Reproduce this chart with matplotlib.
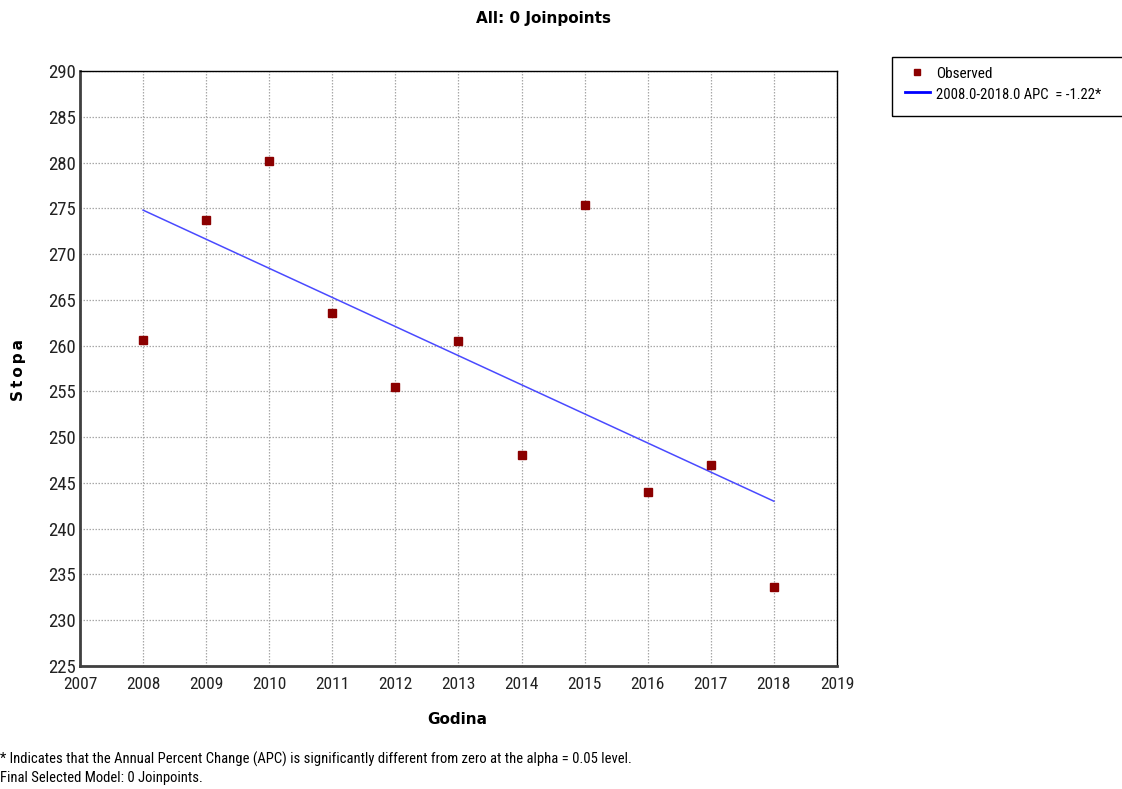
import matplotlib
matplotlib.use("Agg")
import matplotlib.pyplot as plt
from matplotlib.lines import Line2D
from matplotlib.patches import Rectangle

years = [2008, 2009, 2010, 2011, 2012, 2013, 2014, 2015, 2016, 2017, 2018]
observed = [260.6, 273.7, 280.2, 263.6, 255.5, 260.5, 248.0, 275.4, 244.0, 247.0, 233.6]
fit_years = [2008, 2018]
fit_values = [274.8, 243.0]
apc_label = "2008.0-2018.0 APC  = -1.22*"

NARROW = ["Liberation Sans Narrow", "Roboto Condensed", "Liberation Sans", "DejaVu Sans"]
BOLD = ["DejaVu Sans"]

W, H = 1122, 789
fig = plt.figure(figsize=(W / 100, H / 100), dpi=100)
ax = fig.add_axes([80 / W, 1 - 666 / H, (837 - 80) / W, (666 - 71) / H])

ax.plot(fit_years, fit_values, color="#4a4aff", lw=1.1, zorder=2)
ax.plot(years, observed, ls="none", marker="s", ms=6, color="#8b0000",
        mec="#8b0000", zorder=3)

ax.set_xlim(2007, 2019)
ax.set_ylim(225, 290)
ax.set_xticks(range(2007, 2020))
ax.set_yticks(range(225, 291, 5))
ax.grid(True, color="#a8a8a8", ls=(0, (1.2, 1.2)), lw=0.9)
ax.tick_params(axis="x", length=0, pad=8, labelsize=12.5)
ax.tick_params(axis="y", length=0, pad=3, labelsize=13.5)
for lab in ax.get_xticklabels() + ax.get_yticklabels():
    lab.set_family(NARROW)
    lab.set_color("#222222")
for side in ["left", "bottom"]:
    ax.spines[side].set_linewidth(2)
    ax.spines[side].set_color("#404040")
for side in ["top", "right"]:
    ax.spines[side].set_linewidth(1)
    ax.spines[side].set_color("black")

fig.text(543 / W, 1 - 18 / H, "All: 0 Joinpoints", ha="center", va="center",
         fontsize=11, fontweight="bold", family=BOLD)
fig.text(18 / W, 1 - 370 / H, "S\u2009t\u2009o\u2009p\u2009a", rotation=90, ha="center",
         va="center", fontsize=11, fontweight="bold", family=BOLD)
fig.text(457 / W, 1 - 720 / H, "Godina", ha="center", va="center",
         fontsize=11, fontweight="bold", family=BOLD)

fig.text(0, 1 - 759 / H, "* Indicates that the Annual Percent Change (APC) is significantly "
         "different from zero at the alpha = 0.05 level.", ha="left", va="center",
         fontsize=10.5, family=NARROW)
fig.text(0, 1 - 778 / H, "Final Selected Model: 0 Joinpoints.", ha="left", va="center",
         fontsize=10.5, family=NARROW)

# legend box (runs off the right edge like the reference)
fig.patches.append(Rectangle((892 / W, 1 - 116 / H), 240 / W, 59 / H,
                             transform=fig.transFigure, fill=False,
                             edgecolor="black", lw=1))
fig.lines.append(Line2D([917 / W], [1 - 72 / H], transform=fig.transFigure,
                        marker="s", ms=5, color="#8b0000", ls="none"))
fig.lines.append(Line2D([905 / W, 930 / W], [1 - 92 / H, 1 - 92 / H],
                        transform=fig.transFigure, color="blue", lw=2))
fig.text(936 / W, 1 - 74 / H, "Observed", ha="left", va="center",
         fontsize=11, family=NARROW)
fig.text(936 / W, 1 - 95 / H, apc_label, ha="left", va="center",
         fontsize=10.5, family=NARROW)

fig.savefig("out.png", dpi=100, facecolor="white")
